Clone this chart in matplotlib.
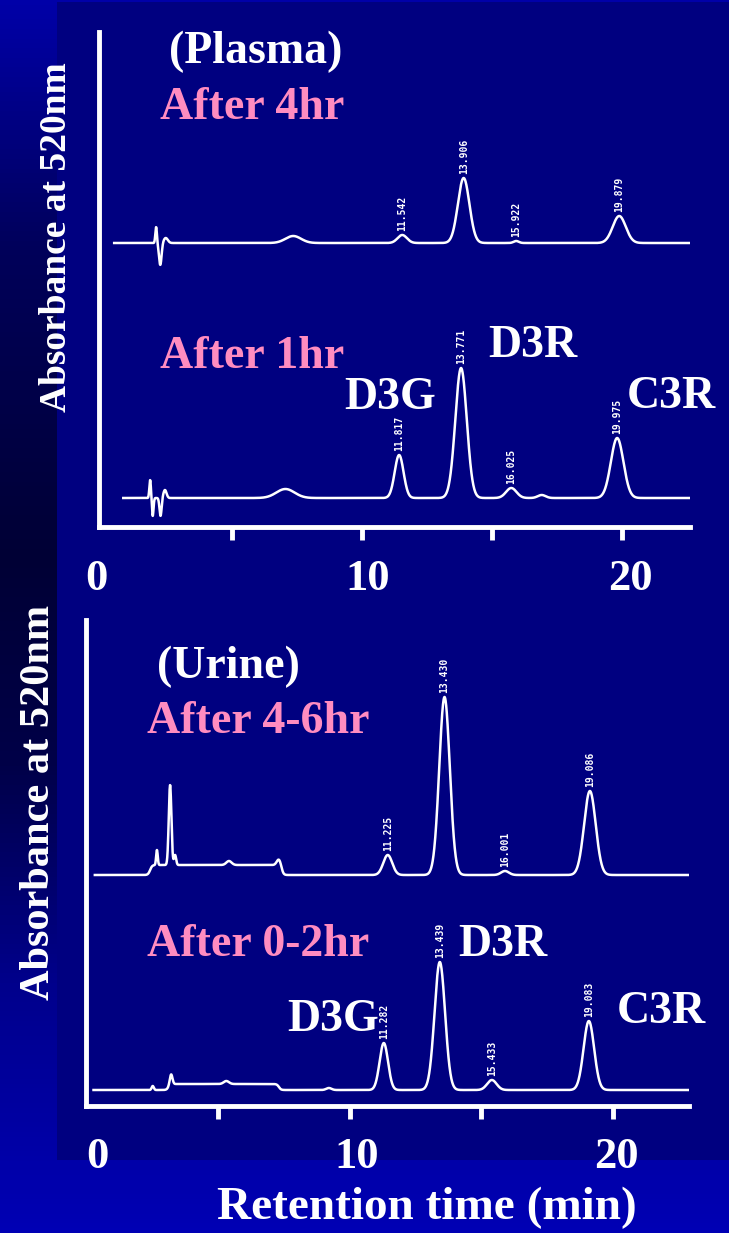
import matplotlib

matplotlib.use("Agg")
import matplotlib.pyplot as plt
import numpy as np
from matplotlib.colors import LinearSegmentedColormap
from matplotlib.patches import Rectangle

W, H = 729, 1233
SERIF = ["Liberation Serif", "DejaVu Serif"]
NAVY = "#000080"
PINK = "#ff8cc0"

# Peak tables: (retention time [min], height [signal units], width [min])
plasma_4hr_base = 284
plasma_4hr_peaks = [
    (2.08, 16, 0.03), (2.24, -22, 0.05), (2.45, 5, 0.08),
    (7.35, 7, 0.30), (11.54, 8, 0.18), (13.90, 65, 0.22),
    (15.92, 2, 0.10), (19.88, 27, 0.25),
]
plasma_4hr_labels = [(11.54, "11.542"), (13.90, "13.906"), (15.92, "15.922"), (19.88, "19.879")]

plasma_1hr_base = 29
plasma_1hr_peaks = [
    (1.85, 18, 0.03), (1.95, -18, 0.03), (2.25, -18, 0.04), (2.42, 8, 0.06),
    (7.05, 9, 0.35), (11.42, 43, 0.17), (13.80, 130, 0.22),
    (15.73, 10, 0.20), (16.90, 3, 0.15), (19.80, 60, 0.24),
]
plasma_1hr_labels = [(11.42, "11.817"), (13.80, "13.771"), (15.73, "16.025"), (19.80, "19.975")]

urine_46hr_base = 231
urine_46hr_shelves = [(2.4, 7.4, 10)]
urine_46hr_peaks = [
    (2.66, 15, 0.03), (3.16, 80, 0.05), (3.35, 10, 0.04),
    (5.40, 4, 0.10), (7.30, 6, 0.08),
    (11.44, 20, 0.17), (13.60, 178, 0.20), (15.90, 4, 0.15), (19.13, 84, 0.22),
]
urine_46hr_labels = [(11.44, "11.225"), (13.60, "13.430"), (15.90, "16.001"), (19.13, "19.086")]

urine_02hr_base = 16
urine_02hr_shelves = [(3.1, 7.3, 6)]
urine_02hr_peaks = [
    (2.50, 4, 0.04), (3.20, 10, 0.05), (5.30, 3, 0.10), (9.20, 2, 0.10),
    (11.29, 47, 0.16), (13.42, 128, 0.20), (15.40, 10, 0.18), (19.09, 69, 0.20),
]
urine_02hr_labels = [(11.29, "11.282"), (13.42, "13.439"), (15.40, "15.433"), (19.09, "19.083")]

axis_ticks = [5, 10, 15, 20]
axis_labels = ["0", "10", "20"]
plasma_label_x = [-0.2, 10.2, 20.3]
urine_label_x = [0.38, 10.27, 20.15]


def fx(px):
    return px / W


def fy(py):
    return 1 - py / H


def trace(t, base, peaks, shelves=()):
    y = np.full_like(t, float(base))
    for start, end, level in shelves:
        y += level / (1 + np.exp(-(t - start) / 0.04)) / (1 + np.exp((t - end) / 0.04))
    for centre, height, width in peaks:
        y += height * np.exp(-0.5 * ((t - centre) / width) ** 2)
    return y


def draw_run(ax, t, base, peaks, labels, shelves=()):
    y = trace(t, base, peaks, shelves)
    ax.plot(t, y, color="white", lw=1.8, solid_capstyle="butt")
    for centre, text in labels:
        top = trace(np.array([centre]), base, peaks, shelves)[0]
        ax.text(centre, top + 4, text, rotation=90, ha="center", va="bottom",
                color="white", fontsize=7, fontweight="bold", family="DejaVu Sans Mono")


def style_axis(ax, label_x):
    ax.set_facecolor("none")
    for side in ("top", "right"):
        ax.spines[side].set_visible(False)
    for side in ("left", "bottom"):
        ax.spines[side].set_color("white")
        ax.spines[side].set_linewidth(3.5)
    ax.set_xticks(axis_ticks)
    ax.set_xticklabels([])
    ax.set_yticks([])
    ax.tick_params(axis="x", colors="white", length=9, width=3.5, direction="out")
    for xpos, text in zip(label_x, axis_labels):
        ax.text(xpos, -0.105, text, transform=ax.get_xaxis_transform(),
                ha="center", va="center", color="white", fontsize=32,
                fontweight="bold", family=SERIF)


fig = plt.figure(figsize=(W / 100, H / 100), dpi=100)

# slide backdrop: vertical blue gradient with a navy panel on top
bg = fig.add_axes([0, 0, 1, 1])
bg.set_axis_off()
slide = LinearSegmentedColormap.from_list(
    "slide", [(0, "#0000a8"), (0.2, "#00005a"), (0.45, "#000035"),
              (0.62, "#000048"), (0.8, "#00008c"), (1, "#0000b4")])
bg.imshow(np.linspace(0, 1, 256)[:, None], aspect="auto", cmap=slide,
          extent=[0, 1, 0, 1], origin="upper")
bg.add_patch(Rectangle((fx(57), fy(1160)), 1 - fx(57), fy(2) - fy(1160),
                       facecolor=NAVY, edgecolor="none"))
bg.set_xlim(0, 1)
bg.set_ylim(0, 1)

# plasma panel
ax1 = fig.add_axes([fx(99.4), fy(527), fx(590.6), fy(32) - fy(527)])
ax1.set_xlim(-0.1, 22.6)
ax1.set_ylim(0, 495)
style_axis(ax1, plasma_label_x)
draw_run(ax1, np.linspace(0.42, 22.6, 3000), plasma_4hr_base, plasma_4hr_peaks, plasma_4hr_labels)
draw_run(ax1, np.linspace(0.77, 22.6, 3000), plasma_1hr_base, plasma_1hr_peaks, plasma_1hr_labels)

# urine panel
ax2 = fig.add_axes([fx(85.7), fy(1106), fx(603.3), fy(620) - fy(1106)])
ax2.set_xlim(-0.05, 22.9)
ax2.set_ylim(0, 486)
style_axis(ax2, urine_label_x)
draw_run(ax2, np.linspace(0.25, 22.9, 3000), urine_46hr_base, urine_46hr_peaks,
         urine_46hr_labels, urine_46hr_shelves)
draw_run(ax2, np.linspace(0.2, 22.9, 3000), urine_02hr_base, urine_02hr_peaks,
         urine_02hr_labels, urine_02hr_shelves)

big = dict(ha="center", va="center", fontsize=33, fontweight="bold", family=SERIF)
fig.text(fx(256), fy(52), "(Plasma)", color="white", **big)
fig.text(fx(252), fy(108), "After 4hr", color=PINK, **big)
fig.text(fx(252), fy(357), "After 1hr", color=PINK, **big)
fig.text(fx(390), fy(398), "D3G", color="white", **big)
fig.text(fx(533), fy(346), "D3R", color="white", **big)
fig.text(fx(671), fy(397), "C3R", color="white", **big)

fig.text(fx(228), fy(667), "(Urine)", color="white", **big)
fig.text(fx(258), fy(722), "After 4-6hr", color=PINK, **big)
fig.text(fx(258), fy(945), "After 0-2hr", color=PINK, **big)
fig.text(fx(333), fy(1020), "D3G", color="white", **big)
fig.text(fx(503), fy(945), "D3R", color="white", **big)
fig.text(fx(661), fy(1012), "C3R", color="white", **big)

fig.text(fx(427), fy(1208), "Retention time (min)", color="white",
         **{**big, "fontsize": 34})
ylab = dict(ha="center", va="center", rotation=90, color="white",
            fontweight="bold", family=SERIF)
fig.text(fx(56), fy(237), "Absorbance at 520nm", fontsize=27, **ylab)
fig.text(fx(39), fy(802), "Absorbance at 520nm", fontsize=30.5, **ylab)

fig.savefig("out.png", dpi=100, facecolor=NAVY)
